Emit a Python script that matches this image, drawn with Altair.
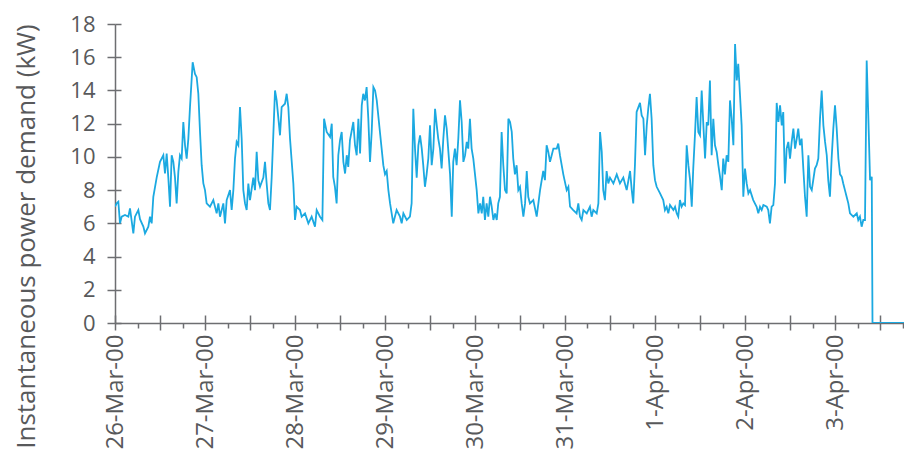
import json
import altair as alt
import pandas as pd

day_labels = ["26-Mar-00", "27-Mar-00", "28-Mar-00", "29-Mar-00", "30-Mar-00",
              "31-Mar-00", "1-Apr-00", "2-Apr-00", "3-Apr-00"]

# (hours since 26-Mar-00 00:00, instantaneous power demand kW)
readings = [
    (0.0, 7.0), (0.44, 7.2), (0.89, 7.3), (1.33, 6.0), (1.78, 6.4), (2.67, 6.5), (3.56, 6.4),
    (4.0, 6.9), (4.89, 5.4), (5.33, 6.4), (6.22, 6.8), (6.67, 6.25), (7.56, 5.8), (8.0, 5.4),
    (8.89, 5.8), (9.33, 6.4), (9.78, 6.0), (10.22, 7.6), (11.11, 8.75), (12.0, 9.7), (12.89, 10.1),
    (13.33, 9.0), (13.78, 10.2), (14.22, 8.75), (14.67, 7.0), (15.11, 10.1), (15.56, 9.7),
    (16.0, 8.75), (16.44, 7.2), (16.89, 9.1), (17.33, 10.1), (17.78, 9.9), (18.22, 12.1),
    (18.67, 10.7), (19.11, 9.9), (19.56, 11.1), (20.0, 13.0), (20.71, 15.7), (21.33, 15.0),
    (21.78, 14.8), (22.22, 13.8), (22.67, 11.5), (23.11, 9.5), (23.56, 8.4), (24.0, 8.0),
    (24.44, 7.2), (25.33, 7.0), (26.22, 7.4), (27.11, 6.6), (27.56, 7.2), (28.0, 6.4),
    (28.89, 7.2), (29.33, 6.0), (29.78, 7.4), (30.67, 8.0), (31.11, 6.8), (31.56, 8.0),
    (32.0, 9.9), (32.44, 10.9), (32.89, 10.7), (33.33, 13.0), (33.78, 11.1), (34.22, 8.0),
    (34.67, 7.2), (35.11, 6.8), (35.56, 8.4), (36.0, 7.4), (36.89, 8.75), (37.33, 8.0),
    (37.78, 10.3), (38.22, 8.6), (38.67, 8.2), (39.56, 8.75), (40.0, 9.7), (40.44, 8.4),
    (40.89, 7.2), (41.33, 6.8), (41.78, 8.75), (42.67, 14.0), (43.11, 13.4), (44.0, 11.3),
    (44.44, 13.0), (45.33, 13.2), (45.78, 13.8), (46.22, 13.0), (46.67, 11.1), (47.56, 8.4),
    (48.0, 6.2), (48.44, 7.0), (49.33, 6.8), (49.78, 6.4), (50.67, 6.6), (51.56, 6.0),
    (52.44, 6.4), (53.33, 5.8), (53.78, 6.8), (54.67, 6.4), (55.3, 6.2),
    (55.75, 12.3), (56.45, 11.5), (57.35, 11.2), (57.8, 12.0), (58.2, 8.8), (58.65, 8.2),
    (59.1, 7.2), (59.55, 10.1), (60.0, 11.0), (60.45, 11.5), (60.9, 9.7), (61.35, 9.0),
    (61.8, 10.1), (62.2, 9.4), (62.65, 11.0), (63.55, 12.1), (64.0, 10.7), (64.45, 10.1),
    (64.9, 12.3), (65.35, 10.2), (65.8, 13.1), (66.2, 13.8), (66.65, 13.4), (67.1, 14.2),
    (67.55, 12.3), (68.0, 9.7), (68.45, 11.5), (68.9, 14.2), (69.35, 14.0), (69.8, 13.4),
    (70.65, 11.5), (71.55, 9.5), (72.0, 8.95), (72.45, 9.15), (72.9, 8.0), (73.35, 7.2),
    (74.2, 6.0), (75.1, 6.8), (76.0, 6.4), (76.45, 6.0), (76.9, 6.6), (77.8, 6.2),
    (78.65, 6.4), (79.1, 7.2), (79.55, 12.9), (80.0, 10.5), (80.45, 8.75), (80.9, 10.7),
    (81.35, 11.3), (81.8, 10.5), (82.2, 9.5), (82.65, 8.2), (83.1, 8.95), (83.55, 9.9),
    (84.0, 11.9), (84.45, 9.5), (84.9, 10.5), (85.35, 12.9), (85.8, 11.9), (86.2, 11.1),
    (86.65, 10.5), (87.1, 9.3), (87.55, 11.1), (88.0, 12.5), (88.45, 11.7), (89.35, 8.95),
    (89.8, 6.4), (90.2, 9.7), (90.65, 10.5), (91.1, 9.5), (91.55, 11.1), (92.0, 13.4),
    (92.45, 12.1), (92.9, 9.7), (93.35, 10.1), (93.8, 10.9), (94.2, 10.5), (94.65, 12.3),
    (95.1, 10.5), (95.55, 9.9), (96.0, 8.95), (96.45, 8.0), (96.9, 6.6), (97.35, 7.2),
    (97.8, 6.6), (98.2, 7.6), (98.65, 6.2), (99.1, 7.2), (99.55, 6.4), (100.0, 7.6),
    (100.45, 7.0), (100.9, 6.2), (101.35, 6.6), (101.8, 6.2), (102.2, 7.2), (102.65, 7.6),
    (103.1, 11.5), (103.55, 9.5), (104.0, 8.0), (104.45, 7.8), (104.9, 12.3), (105.35, 12.1),
    (105.8, 11.5), (106.2, 9.9), (106.65, 8.95), (107.1, 9.5), (107.55, 8.0), (108.0, 8.2),
    (108.45, 7.2), (108.9, 6.4), (109.35, 7.2), (109.8, 9.15), (110.2, 7.6), (110.65, 7.2),
    (111.55, 7.4), (112.45, 6.4), (113.35, 8.0), (114.2, 9.15), (114.65, 8.6), (115.1, 10.7),
    (115.55, 10.3), (116.0, 9.7), (116.45, 10.1), (116.9, 10.5), (117.8, 10.5), (118.2, 10.8),
    (118.65, 10.1), (119.55, 8.95), (120.45, 8.0), (120.9, 8.2), (121.35, 7.0), (122.2, 6.8),
    (123.1, 6.6), (123.55, 7.2), (124.0, 6.4), (124.45, 6.2), (124.9, 6.8), (125.8, 6.6),
    (126.65, 7.0), (127.1, 6.4), (127.55, 6.8), (128.45, 6.6), (128.9, 7.2), (129.35, 11.5),
    (129.8, 10.3), (130.2, 8.0), (130.65, 7.4), (131.1, 9.15), (131.55, 8.4), (132.0, 8.75),
    (132.9, 8.4), (133.8, 8.95), (134.65, 8.4), (135.55, 8.75), (136.45, 8.0), (137.35, 9.15),
    (137.8, 8.0), (138.2, 7.2), (138.65, 9.5), (139.1, 12.7), (140.0, 13.25), (140.45, 12.5),
    (140.9, 12.3), (141.35, 10.1), (141.8, 11.9), (142.2, 12.9), (142.65, 13.8), (143.1, 12.3),
    (143.55, 9.5), (144.0, 8.6), (144.45, 8.2), (145.35, 7.8), (146.2, 7.4), (146.65, 6.8),
    (147.1, 7.0), (147.55, 6.6), (148.0, 7.1), (148.9, 6.8), (149.35, 7.0), (149.8, 6.6),
    (150.2, 6.4), (150.65, 7.4), (151.1, 7.0), (151.55, 7.2), (152.0, 7.1), (152.45, 10.7),
    (152.9, 9.5), (153.35, 8.6), (153.8, 7.0), (154.2, 9.3), (154.65, 11.3), (155.1, 13.6),
    (155.55, 11.5), (156.0, 11.3), (156.45, 14.0), (156.9, 11.9), (157.35, 9.9), (157.8, 12.1),
    (158.2, 11.9), (158.65, 14.6), (159.1, 10.1), (159.55, 12.3), (160.0, 10.7), (160.45, 10.3),
    (160.9, 9.5), (161.35, 8.8), (161.8, 8.0), (162.2, 9.9), (162.65, 8.95), (163.1, 10.1),
    (163.55, 9.7), (164.0, 13.4), (164.45, 12.3), (164.9, 10.7), (165.35, 16.8), (165.8, 14.6),
    (166.2, 15.6), (166.65, 13.8), (167.1, 11.9), (167.55, 7.6), (168.0, 9.3), (168.45, 8.4),
    (168.9, 7.8), (169.35, 8.0), (170.2, 7.4), (171.1, 7.0), (171.55, 6.6), (172.0, 7.0),
    (172.45, 6.8), (172.9, 7.1), (173.8, 7.0), (174.2, 6.8), (174.65, 6.0), (175.1, 7.0),
    (175.55, 7.1), (176.0, 8.4), (176.45, 13.25), (176.9, 12.1), (177.35, 13.1), (177.8, 11.9),
    (178.2, 12.7), (178.65, 8.4), (179.1, 10.5), (179.55, 10.9), (180.0, 9.9), (180.45, 10.9),
    (180.9, 11.7), (181.35, 10.5), (181.8, 11.1), (182.2, 11.7), (182.65, 10.7), (183.1, 11.1),
    (183.55, 9.3), (184.0, 7.6), (184.45, 6.4), (184.9, 10.1), (185.35, 8.2), (185.8, 8.0),
    (186.2, 8.6), (186.65, 9.3), (187.1, 9.5), (187.55, 9.9), (188.0, 12.3), (188.45, 14.0),
    (188.9, 11.9), (189.35, 10.9), (189.8, 10.1), (190.2, 8.6), (190.65, 7.6), (191.1, 9.9),
    (191.55, 11.7), (192.0, 13.1), (192.45, 11.7), (192.9, 9.9), (193.35, 8.95), (193.8, 8.8),
    (194.2, 8.4), (194.65, 8.0), (195.1, 7.6), (195.55, 7.2), (196.0, 6.6), (196.9, 6.4),
    (197.8, 6.6), (198.2, 6.2), (198.65, 6.4), (199.1, 5.8), (199.55, 6.2), (200.0, 6.2),
    (200.45, 15.8), (200.9, 12.3), (201.35, 8.6), (201.8, 8.8), (202.0, 0.0), (210.4, 0.0),
]

hours = [h for h, _ in readings]
kw = [v for _, v in readings]
df = pd.DataFrame({"hours": hours, "kw": kw})

x_ticks = list(range(0, 211, 6))
x_major = list(range(0, 211, 12))
y_ticks = list(range(0, 19, 2))

TEXT = "#58595B"
AXIS = "#6D6E71"
FONT = "Open Sans"

label_expr = ("datum.value % 24 == 0 ? " + json.dumps(day_labels) +
              "[datum.value / 24] : ''")

x_scale = alt.Scale(domain=[0, 210.4], nice=False, zero=False)
y_scale = alt.Scale(domain=[0, 18], nice=False)

base = alt.Chart(df)

line = base.mark_line(color="#1BA9E1", strokeWidth=1.8, clip=True).encode(
    x=alt.X(
        "hours:Q", scale=x_scale,
        axis=alt.Axis(
            orient="bottom", values=x_ticks, labelExpr=label_expr, labelAngle=270,
            labelAlign="right", labelBaseline="middle", labelFontSize=24,
            labelFont=FONT, labelColor=TEXT, labelPadding=4,
            labelOverlap=False, labelFlush=False,
            tickSize={"condition": {"test": "datum.value % 12 == 0", "value": 7}, "value": 5},
            tickColor=AXIS, tickWidth=1.5, domainColor=AXIS, domainWidth=1.5,
            grid=False, title=None,
        ),
    ),
    y=alt.Y(
        "kw:Q", scale=y_scale,
        axis=alt.Axis(
            orient="left", values=y_ticks, labelFontSize=22, labelFont=FONT,
            labelColor=TEXT, labelPadding=12, tickSize=8,
            tickColor=AXIS, tickWidth=1.5, domainColor=AXIS, domainWidth=1.5,
            grid=False, title="Instantaneous power demand (kW)", titleFontSize=26,
            titleFont=FONT, titleFontWeight="normal", titleColor=TEXT,
            titleX=-89, titleY=212, titleAngle=270, titleAlign="center",
            titleBaseline="middle",
        ),
    ),
)

# inner halves of the crossing tick marks
inner = base.mark_line(opacity=0).encode(
    x=alt.X(
        "hours:Q", scale=x_scale,
        axis=alt.Axis(orient="bottom", values=x_major, offset=-8, tickSize=8,
                      labels=False, domain=False, tickColor=AXIS, tickWidth=1.5,
                      grid=False, title=None),
    ),
    y=alt.Y(
        "kw:Q", scale=y_scale,
        axis=alt.Axis(orient="left", values=y_ticks, offset=-6, tickSize=6,
                      labels=False, domain=False, tickColor=AXIS, tickWidth=1.5,
                      grid=False, title=None),
    ),
)

chart = alt.layer(inner, line).resolve_axis(x="independent", y="independent").properties(
    width=789, height=299,
    padding={"left": 107, "top": 16, "right": 0, "bottom": 130},
    autosize="none",
).configure_view(stroke=None)

chart.save("out.html", embed_options={"renderer": "svg", "actions": False})
